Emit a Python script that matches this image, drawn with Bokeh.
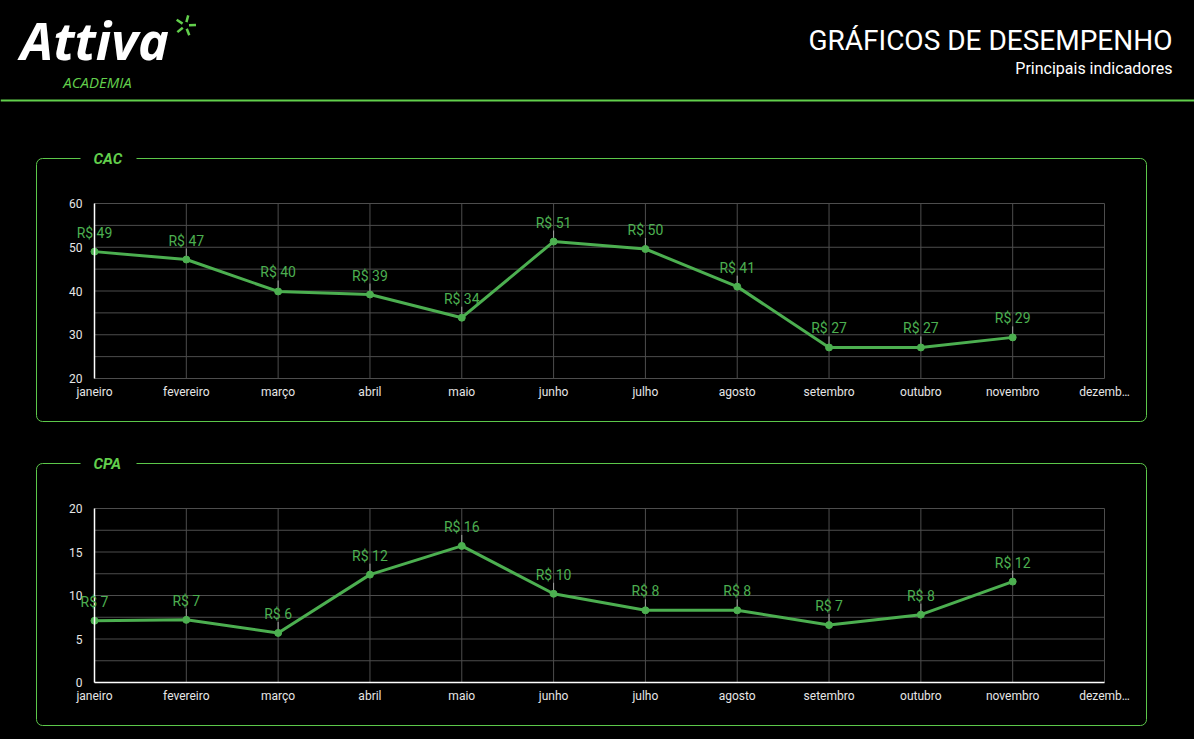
import math
from bokeh.plotting import figure
from bokeh.models import (Range1d, FixedTicker, ColumnDataSource, LabelSet,
                          LinearAxis)
from bokeh.embed import file_html
from bokeh.resources import INLINE
from bokeh.core.properties import value

# ---------------- data ----------------
month_labels = ["janeiro", "fevereiro", "março", "abril", "maio", "junho",
                "julho", "agosto", "setembro", "outubro", "novembro", "dezemb…"]
cac_values = [49.0, 47.2, 39.9, 39.2, 33.9, 51.3, 49.6, 41.0, 27.1, 27.1, 29.4]
cpa_values = [7.1, 7.2, 5.7, 12.4, 15.7, 10.2, 8.3, 8.3, 6.6, 7.8, 11.6]
cac_ticks = [20, 30, 40, 50, 60]
cac_minor = [25, 35, 45, 55]
cpa_ticks = [0, 5, 10, 15, 20]
cpa_minor = [2.5, 7.5, 12.5, 17.5]

title_text = "GRÁFICOS DE DESEMPENHO"
subtitle_text = "Principais indicadores"

# ---------------- style / layout ----------------
W, H = 1194, 739
BG = "#000000"
GREEN_LINE = "#4caf50"
GREEN_FRAME = "#5cc84a"
GREEN_TITLE = "#62cf4c"
GRID = "#4d4d4d"
TICK_TXT = "#e6e6e6"

PX_L, PX_R = 94, 1104        # plot area left / right (page px)
BOX_L, BOX_R = 36, 1146      # green frame left / right

charts = [
    # name, values, ticks, minor, plot top, plot bottom, box top, box bottom, x axis line
    ("CAC", cac_values, cac_ticks, cac_minor, 203, 378, 158, 421, False),
    ("CPA", cpa_values, cpa_ticks, cpa_minor, 508, 682, 463, 725, True),
]

p = figure(width=W, height=H, x_range=Range1d(0, W), y_range=Range1d(H, 0),
           output_backend="svg", toolbar_location=None,
           x_axis_location=None, y_axis_location=None,
           min_border=0, min_border_left=0, min_border_right=0,
           min_border_top=0, min_border_bottom=0,
           styles={"background-color": "#000000"})
p.grid.visible = False
p.background_fill_color = BG
p.border_fill_color = BG
p.outline_line_color = None

# month scale
n_m = len(month_labels) - 1
m_ppu = (PX_R - PX_L) / n_m
p.extra_x_ranges = {"m": Range1d(0 - PX_L / m_ppu, n_m + (W - PX_R) / m_ppu)}

yr = {}
for name, vals, ticks, minor, top, bot, bt, bb, xl in charts:
    lo, hi = ticks[0], ticks[-1]
    ppu = (bot - top) / (hi - lo)
    yr[name] = Range1d(lo - (H - bot) / ppu, hi + top / ppu)
p.extra_y_ranges = yr

# ---------------- header ----------------
p.text(x=[20], y=[39], text=["Attiva"], text_color="#ffffff",
       text_font=value("Open Sans"), text_font_style="bold italic",
       text_font_size="52px", text_baseline="middle", text_align="left")
cx, cy = 185, 25
xs0, ys0, xs1, ys1 = [], [], [], []
for k in range(5):
    a = math.radians(-90 + k * 72 + 15)
    xs0.append(cx + 3.5 * math.cos(a)); ys0.append(cy + 3.5 * math.sin(a))
    xs1.append(cx + 10.5 * math.cos(a)); ys1.append(cy + 10.5 * math.sin(a))
p.segment(x0=xs0, y0=ys0, x1=xs1, y1=ys1, line_color=GREEN_TITLE, line_width=2.5)
p.text(x=[97], y=[81], text=["ACADEMIA"], text_color=GREEN_TITLE,
       text_font=value("Open Sans"), text_font_style="italic",
       text_font_size="15px", text_baseline="middle", text_align="center")
p.text(x=[1172], y=[40], text=[title_text], text_color="#ffffff",
       text_font=value("Roboto"), text_font_size="28px",
       text_baseline="middle", text_align="right")
p.text(x=[1172], y=[68], text=[subtitle_text], text_color="#ffffff",
       text_font=value("Roboto"), text_font_size="16px",
       text_baseline="middle", text_align="right")
p.segment(x0=[0], y0=[100], x1=[W], y1=[100], line_color=GREEN_TITLE, line_width=2)

# ---------------- charts ----------------
months = list(range(len(month_labels)))
for name, vals, ticks, minor, top, bot, bt, bb, xl in charts:
    lo, hi = ticks[0], ticks[-1]
    ppu = (bot - top) / (hi - lo)
    # green frame with title
    p.quad(left=[BOX_L], right=[BOX_R], top=[bt], bottom=[bb], fill_alpha=0,
           line_color=GREEN_FRAME, line_width=1, border_radius=6)
    p.quad(left=[80], right=[136], top=[bt - 4], bottom=[bt + 4],
           fill_color=BG, line_color=None)
    p.text(x=[93], y=[bt], text=[name], text_color=GREEN_TITLE,
           text_font=value("Roboto"), text_font_style="bold italic",
           text_font_size="15px", text_baseline="middle", text_align="left")

    # grid lines at tick positions
    gv = sorted(ticks + minor)
    p.segment(x0=months, y0=[lo] * len(months), x1=months, y1=[hi] * len(months),
              x_range_name="m", y_range_name=name, line_color=GRID, line_width=1)
    p.segment(x0=[0] * len(gv), y0=gv, x1=[n_m] * len(gv), y1=gv,
              x_range_name="m", y_range_name=name, line_color=GRID, line_width=1)

    # axes
    ya = LinearAxis(x_range_name="m", y_range_name=name, fixed_location=0,
                    bounds=(lo, hi), ticker=FixedTicker(ticks=ticks))
    xa = LinearAxis(x_range_name="m", y_range_name=name, fixed_location=lo,
                    bounds=(0, n_m), ticker=FixedTicker(ticks=months),
                    major_label_overrides={i: l for i, l in enumerate(month_labels)})
    for ax in (xa, ya):
        ax.major_tick_line_color = None
        ax.minor_tick_line_color = None
        ax.major_tick_out = 0
        ax.major_tick_in = 0
        ax.major_label_text_color = TICK_TXT
        ax.major_label_text_font = "Roboto"
        ax.major_label_text_font_size = "12px"
    ya.major_label_standoff = 12
    xa.major_label_standoff = 6
    ya.axis_line_color = "#ffffff"
    ya.axis_line_width = 1.5
    xa.axis_line_color = "#ffffff" if xl else None
    xa.axis_line_width = 1.5
    p.add_layout(ya, "left")
    p.add_layout(xa, "below")

    # data
    xs = list(range(len(vals)))
    src = ColumnDataSource(dict(
        x=xs, y=vals,
        yl=[v + 11 / ppu for v in vals],
        label=[f"R$ {round(v)}" for v in vals]))
    p.segment(x0="x", y0="y", x1="x", y1="yl", source=src,
              x_range_name="m", y_range_name=name,
              line_color="#a0a0a0", line_width=1)
    p.line(x="x", y="y", source=src, x_range_name="m", y_range_name=name,
           line_color=GREEN_LINE, line_width=3)
    p.scatter(x="x", y="y", source=src, x_range_name="m", y_range_name=name,
              size=7, color=GREEN_LINE)
    p.add_layout(LabelSet(x="x", y="y", text="label", source=src,
                          x_range_name="m", y_range_name=name,
                          y_offset=11, text_align="center",
                          text_baseline="bottom", text_color=GREEN_LINE,
                          text_font=value("Roboto"), text_font_size="14px"))

open("out.html", "w").write(file_html(p, INLINE))
